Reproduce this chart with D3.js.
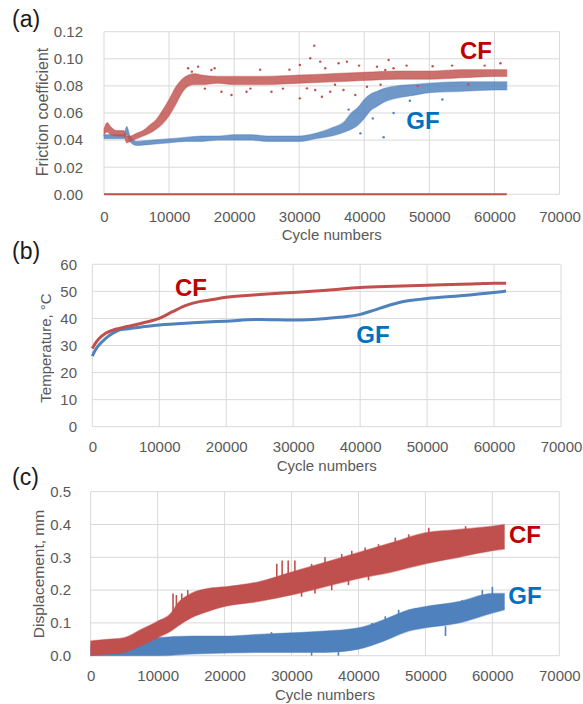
<!DOCTYPE html>
<html>
<head>
<meta charset="utf-8">
<script src="https://cdn.jsdelivr.net/npm/d3@7/dist/d3.min.js"></script>
<style>
  html, body { margin: 0; padding: 0; background: #fff; }
  svg { display: block; }
  .tick text { font-family: "Liberation Sans", Arial, sans-serif; font-size: 15px; fill: #595959; }
  .axis-title { font-family: "Liberation Sans", Arial, sans-serif; font-size: 15px; fill: #595959; }
  .panel-label { font-family: "Liberation Sans", Arial, sans-serif; font-size: 23px; fill: #1a1a1a; }
  .series-label { font-family: "Liberation Sans", Arial, sans-serif; font-size: 24px; font-weight: bold; }
</style>
</head>
<body>
<svg id="chart" width="583" height="704"></svg>
<script>
// ---- shared axis data ----
const cycleTicks = [0, 10000, 20000, 30000, 40000, 50000, 60000, 70000];
const frictionTicks = [0, 0.02, 0.04, 0.06, 0.08, 0.10, 0.12];
const temperatureTicks = [0, 10, 20, 30, 40, 50, 60];
const displacementTicks = [0, 0.1, 0.2, 0.3, 0.4, 0.5];

// ---- (a) friction coefficient: scatter band envelopes ----
const cfFricCycles = [0, 500, 1000, 2000, 3000, 3500, 4000, 5000, 6000, 7000, 8000, 9000, 10000, 11000, 12000, 13000, 14000, 15000, 17500, 20000, 25000, 30000, 35000, 40000, 45000, 50000, 55000, 60000, 61900];
const cfFricHigh = [0.048, 0.053, 0.050, 0.047, 0.047, 0.043, 0.043, 0.045, 0.047, 0.051, 0.055, 0.062, 0.070, 0.079, 0.085, 0.088, 0.089, 0.088, 0.087, 0.087, 0.087, 0.088, 0.089, 0.090, 0.091, 0.091, 0.092, 0.092, 0.092];
const cfFricLow  = [0.044, 0.046, 0.044, 0.043, 0.043, 0.038, 0.039, 0.041, 0.043, 0.045, 0.048, 0.052, 0.058, 0.066, 0.075, 0.080, 0.081, 0.081, 0.082, 0.081, 0.081, 0.082, 0.083, 0.084, 0.085, 0.085, 0.086, 0.087, 0.087];
const cfFricOutCycles = [12920, 13500, 14460, 15500, 16510, 17000, 18050, 19590, 21900, 22500, 24000, 25740, 27500, 28500, 30100, 30100, 31180, 31690, 32310, 32460, 33230, 33490, 34000, 34770, 35500, 36050, 36800, 37330, 38620, 39200, 40410, 41950, 42500, 43230, 43740, 44500, 46500, 48200, 50500, 53500, 56000, 58500, 60920];
const cfFricOutValues = [0.0930, 0.0905, 0.0942, 0.0780, 0.0917, 0.0930, 0.0757, 0.0733, 0.0757, 0.0780, 0.0920, 0.0757, 0.0780, 0.0920, 0.0954, 0.0708, 0.0782, 0.1004, 0.1097, 0.0770, 0.0979, 0.0720, 0.0930, 0.0757, 0.0808, 0.0967, 0.0770, 0.0979, 0.0733, 0.0950, 0.0794, 0.0942, 0.0808, 0.0917, 0.0991, 0.0930, 0.0950, 0.0800, 0.0945, 0.0950, 0.0810, 0.0950, 0.0967];
const cfZeroCycles = [0, 61900];
const cfZeroValues = [0, 0];

const gfFricCycles = [0, 1000, 2000, 3000, 3500, 4000, 5000, 7500, 10000, 12500, 15000, 17500, 20000, 22500, 25000, 27500, 30000, 32500, 35000, 37000, 38000, 39000, 40000, 41000, 42000, 43000, 45000, 47500, 50000, 55000, 60000, 61900];
const gfFricHigh = [0.044, 0.044, 0.044, 0.044, 0.050, 0.043, 0.039, 0.040, 0.041, 0.042, 0.043, 0.043, 0.044, 0.044, 0.043, 0.043, 0.043, 0.045, 0.049, 0.054, 0.060, 0.064, 0.070, 0.074, 0.076, 0.078, 0.080, 0.081, 0.082, 0.083, 0.083, 0.083];
const gfFricLow  = [0.041, 0.041, 0.041, 0.041, 0.044, 0.039, 0.036, 0.037, 0.038, 0.039, 0.039, 0.040, 0.040, 0.040, 0.039, 0.039, 0.039, 0.041, 0.043, 0.046, 0.048, 0.051, 0.056, 0.062, 0.065, 0.068, 0.071, 0.073, 0.075, 0.076, 0.077, 0.077];
const gfFricOutCycles = [37590, 39400, 41300, 42970, 44500, 47000, 52000];
const gfFricOutValues = [0.0625, 0.0450, 0.0560, 0.0421, 0.0600, 0.0690, 0.0700];

// ---- (b) temperature ----
const cfTempCycles = [0, 500, 1000, 2000, 3000, 4000, 5000, 7500, 10000, 12000, 14000, 16000, 18000, 20000, 25000, 30000, 35000, 40000, 45000, 50000, 55000, 57500, 60000, 61800];
const cfTempValues = [28.9, 31.0, 32.5, 34.5, 35.6, 36.3, 36.9, 38.3, 40.0, 42.5, 44.8, 46.2, 47.0, 47.8, 48.8, 49.6, 50.4, 51.4, 51.9, 52.3, 52.6, 52.8, 53.0, 53.0];
const gfTempCycles = [0, 500, 1000, 2000, 3000, 4000, 5000, 7500, 10000, 15000, 20000, 25000, 30000, 35000, 38000, 40000, 42000, 44000, 46000, 48000, 50000, 55000, 60000, 61800];
const gfTempValues = [26.1, 28.5, 30.2, 32.6, 34.4, 35.7, 36.1, 36.9, 37.6, 38.4, 39.0, 39.6, 39.4, 40.0, 40.7, 41.5, 43.0, 44.6, 46.0, 46.8, 47.4, 48.4, 49.6, 50.1];

// ---- (c) displacement: band envelopes plus isolated spikes ----
const cfDispCycles = [0, 2500, 5000, 7500, 10000, 12000, 13000, 15000, 17500, 20000, 25000, 30000, 35000, 40000, 45000, 50000, 55000, 60000, 61800];
const cfDispHigh = [0.045, 0.050, 0.055, 0.080, 0.105, 0.130, 0.160, 0.190, 0.205, 0.210, 0.225, 0.255, 0.285, 0.315, 0.345, 0.375, 0.385, 0.395, 0.400];
const cfDispLow  = [0.000, 0.005, 0.010, 0.030, 0.055, 0.075, 0.090, 0.115, 0.135, 0.150, 0.165, 0.185, 0.210, 0.235, 0.255, 0.280, 0.300, 0.320, 0.325];
const cfSpikeCycles = [12300, 12800, 13600, 14500, 27800, 28600, 29500, 30500, 31500, 33000, 33500, 35000, 36000, 37500, 38500, 39000, 41000, 41500, 43000, 45500, 47500, 50500, 56000];
const cfSpikeTop    = [0.190, 0.185, 0.190, 0.200, 0.280, 0.290, 0.290, 0.290, 0.220, 0.280, 0.230, 0.300, 0.240, 0.310, 0.250, 0.320, 0.330, 0.270, 0.340, 0.360, 0.370, 0.390, 0.395];
const cfSpikeBottom = [0.130, 0.130, 0.140, 0.150, 0.230, 0.240, 0.240, 0.240, 0.180, 0.240, 0.190, 0.260, 0.200, 0.270, 0.215, 0.280, 0.290, 0.230, 0.300, 0.320, 0.330, 0.350, 0.360];

const gfDispCycles = [0, 5000, 10000, 15000, 20000, 25000, 30000, 35000, 40000, 42500, 45000, 47500, 50000, 55000, 60000, 61800];
const gfDispHigh = [0.030, 0.035, 0.055, 0.060, 0.060, 0.065, 0.070, 0.075, 0.085, 0.100, 0.120, 0.140, 0.150, 0.165, 0.190, 0.190];
const gfDispLow  = [0.000, 0.000, 0.000, 0.005, 0.008, 0.010, 0.010, 0.010, 0.020, 0.035, 0.055, 0.075, 0.085, 0.100, 0.130, 0.140];
const gfSpikeCycles = [20000, 27000, 33000, 37000, 42000, 44000, 46000, 48500, 51000, 53000, 55500, 58500, 60000];
const gfSpikeTop    = [0.060, 0.072, 0.030, 0.030, 0.100, 0.120, 0.140, 0.145, 0.150, 0.090, 0.170, 0.200, 0.210];
const gfSpikeBottom = [0.030, 0.040, 0.000, 0.000, 0.060, 0.080, 0.100, 0.100, 0.110, 0.060, 0.130, 0.160, 0.170];

const RED = "#c0504d", BLUE = "#4f81bd";
const RED_LABEL = "#c00000", BLUE_LABEL = "#0070c0";

const svg = d3.select("#chart");
const zip = (xs, ys) => xs.map((x, i) => [x, ys[i]]);
const zip3 = (xs, hi, lo) => xs.map((x, i) => ({ x, hi: hi[i], lo: lo[i] }));

function panel(cfg) {
  const x = d3.scaleLinear().domain([0, 70000]).range([cfg.left, cfg.right]);
  const y = d3.scaleLinear().domain(cfg.yDomain).range([cfg.bottom, cfg.top]);
  const g = svg.append("g");

  // gridlines
  g.append("g").selectAll("line").data(cfg.yTicks).join("line")
    .attr("x1", cfg.left).attr("x2", cfg.right)
    .attr("y1", d => y(d)).attr("y2", d => y(d))
    .attr("stroke", "#d9d9d9").attr("stroke-width", 1);
  g.append("g").selectAll("line").data(cycleTicks).join("line")
    .attr("x1", d => x(d)).attr("x2", d => x(d))
    .attr("y1", cfg.top).attr("y2", cfg.bottom)
    .attr("stroke", "#d9d9d9").attr("stroke-width", 1);

  // axes (labels only, Excel style)
  const fs = 15;
  const xa = g.append("g").attr("transform", `translate(0,${cfg.bottom})`)
    .call(d3.axisBottom(x).tickValues(cycleTicks).tickSize(0)
      .tickPadding(cfg.xLabelBase - 0.71 * fs - cfg.bottom).tickFormat(d3.format("d")));
  xa.select(".domain").remove();
  const ya = g.append("g").attr("transform", `translate(${cfg.left},0)`)
    .call(d3.axisLeft(y).tickValues(cfg.yTicks).tickSize(0)
      .tickPadding(cfg.left - cfg.yLabelRight).tickFormat(d3.format(cfg.yFormat)));
  ya.select(".domain").remove();

  g.append("text").attr("class", "axis-title")
    .attr("x", (cfg.left + cfg.right) / 2).attr("y", cfg.xTitleBase)
    .attr("text-anchor", "middle").text("Cycle numbers");
  g.append("text").attr("class", "axis-title")
    .attr("transform", `translate(${cfg.yTitleX},${cfg.yTitleY}) rotate(-90)`)
    .attr("text-anchor", "middle").style("font-size", cfg.yTitleSize + "px").text(cfg.yTitle);
  g.append("text").attr("class", "panel-label")
    .attr("x", cfg.labelX).attr("y", cfg.labelY).text(cfg.label);

  const plot = g.append("g");
  return { x, y, g: plot };
}

function band(p, rows, color, opacity) {
  p.g.append("path").datum(rows)
    .attr("fill", color).attr("fill-opacity", opacity)
    .attr("stroke", color).attr("stroke-width", 1.2).attr("stroke-opacity", 0.45)
    .attr("d", d3.area().x(d => p.x(d.x)).y0(d => p.y(d.lo)).y1(d => p.y(d.hi)).curve(d3.curveMonotoneX));
}
function spikes(p, rows, color) {
  p.g.append("g").selectAll("line").data(rows).join("line")
    .attr("x1", d => p.x(d.x)).attr("x2", d => p.x(d.x))
    .attr("y1", d => p.y(d.lo)).attr("y2", d => p.y(d.hi))
    .attr("stroke", color).attr("stroke-width", 1.6);
}
function dots(p, pts, color) {
  p.g.append("g").selectAll("circle").data(pts).join("circle")
    .attr("cx", d => p.x(d[0])).attr("cy", d => p.y(d[1])).attr("r", 1.2).attr("fill", color);
}
function line(p, pts, color, w) {
  p.g.append("path").datum(pts).attr("fill", "none").attr("stroke", color)
    .attr("stroke-width", w).attr("stroke-linejoin", "round")
    .attr("d", d3.line().x(d => p.x(d[0])).y(d => p.y(d[1])).curve(d3.curveMonotoneX));
}
function seriesLabel(p, text, color, cx, cy) {
  p.g.append("text").attr("class", "series-label").attr("fill", color)
    .attr("x", cx).attr("y", cy).attr("text-anchor", "middle").attr("dy", "0.36em").text(text);
}

// (a) Friction coefficient
const pa = panel({
  left: 104, right: 559.5, top: 31.7, bottom: 194.3,
  yDomain: [0, 0.12], yTicks: frictionTicks, yFormat: ".2f",
  xLabelBase: 222, xTitleBase: 240, yLabelRight: 83,
  yTitle: "Friction coefficient", yTitleSize: 16, yTitleX: 48, yTitleY: 112,
  label: "(a)", labelX: 12, labelY: 27
});
band(pa, zip3(gfFricCycles, gfFricHigh, gfFricLow), BLUE, 0.82);
dots(pa, zip(gfFricOutCycles, gfFricOutValues), BLUE);
band(pa, zip3(cfFricCycles, cfFricHigh, cfFricLow), RED, 0.82);
dots(pa, zip(cfFricOutCycles, cfFricOutValues), RED);
line(pa, zip(cfZeroCycles, cfZeroValues), RED, 2);
seriesLabel(pa, "CF", RED_LABEL, 476, 50);
seriesLabel(pa, "GF", BLUE_LABEL, 423, 120);

// (b) Temperature
const pb = panel({
  left: 92.3, right: 561, top: 264.3, bottom: 426.7,
  yDomain: [0, 60], yTicks: temperatureTicks, yFormat: "d",
  xLabelBase: 452, xTitleBase: 471, yLabelRight: 77,
  yTitle: "Temperature, °C", yTitleSize: 15, yTitleX: 51, yTitleY: 348,
  label: "(b)", labelX: 12, labelY: 259
});
line(pb, zip(gfTempCycles, gfTempValues), BLUE, 3);
line(pb, zip(cfTempCycles, cfTempValues), RED, 3);
seriesLabel(pb, "CF", RED_LABEL, 191, 287);
seriesLabel(pb, "GF", BLUE_LABEL, 373, 334);

// (c) Displacement
const pc = panel({
  left: 90.7, right: 559.3, top: 491.7, bottom: 655.7,
  yDomain: [0, 0.5], yTicks: displacementTicks, yFormat: ".1f",
  xLabelBase: 681, xTitleBase: 700, yLabelRight: 71,
  yTitle: "Displacement, mm", yTitleSize: 15.5, yTitleX: 44, yTitleY: 574,
  label: "(c)", labelX: 12, labelY: 485
});
band(pc, zip3(gfDispCycles, gfDispHigh, gfDispLow), BLUE, 1);
spikes(pc, zip3(gfSpikeCycles, gfSpikeTop, gfSpikeBottom), BLUE);
band(pc, zip3(cfDispCycles, cfDispHigh, cfDispLow), RED, 1);
spikes(pc, zip3(cfSpikeCycles, cfSpikeTop, cfSpikeBottom), RED);
seriesLabel(pc, "CF", RED_LABEL, 525, 534);
seriesLabel(pc, "GF", BLUE_LABEL, 525, 595);
</script>
</body>
</html>
